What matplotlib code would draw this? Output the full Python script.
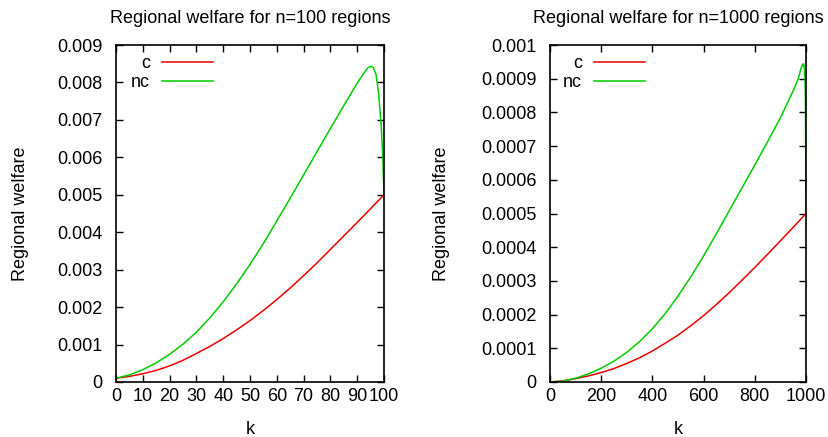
import matplotlib
matplotlib.use("Agg")
import matplotlib.pyplot as plt

plt.rcParams['font.family'] = ['Liberation Sans', 'DejaVu Sans']
plt.rcParams['font.size'] = 13

# values
k100_c = [0, 5, 10, 15, 20, 25, 30, 35, 40, 45, 50, 55, 60, 65, 70, 75, 80, 85, 90, 95, 100]
w100_c = [0.0001, 0.00015, 0.00022, 0.00031, 0.00043, 0.00058, 0.00076, 0.00095, 0.00116,
          0.00139, 0.00164, 0.00191, 0.0022, 0.00251, 0.00284, 0.00318, 0.00354, 0.0039,
          0.00426, 0.00463, 0.005]

k100_nc = [0, 5, 10, 15, 20, 25, 30, 35, 40, 45, 50, 55, 60, 65, 70, 75, 80, 85, 88, 90,
           92, 93, 94, 95, 96, 97, 98, 99, 99.5, 100]
w100_nc = [0.0001, 0.00019, 0.00033, 0.00051, 0.00074, 0.00101, 0.00133, 0.00171, 0.00214,
           0.00262, 0.00314, 0.0037, 0.0043, 0.00491, 0.00553, 0.00615, 0.00677, 0.00738,
           0.00774, 0.00798, 0.0082, 0.0083, 0.00839, 0.00843, 0.0084, 0.00822, 0.0077,
           0.0068, 0.0061, 0.005]

k1000_c = [0, 50, 100, 150, 200, 250, 300, 350, 400, 450, 500, 550, 600, 650, 700, 750,
           800, 850, 900, 950, 1000]
w1000_c = [0, 0.000003, 0.00001, 0.000018, 0.000028, 0.00004, 0.000055, 0.000072, 0.000092,
           0.000115, 0.000139, 0.000167, 0.000197, 0.00023, 0.000265, 0.000302, 0.00034,
           0.000379, 0.000419, 0.000459, 0.0005]

k1000_nc = [0, 50, 100, 150, 200, 250, 300, 350, 400, 450, 500, 550, 600, 650, 700, 750,
            800, 850, 900, 950, 970, 980, 987, 991, 994, 996, 998, 1000]
w1000_nc = [0, 0.000003, 0.000011, 0.000024, 0.000041, 0.000062, 0.000088, 0.00012, 0.000158,
            0.000203, 0.000255, 0.000312, 0.000374, 0.00044, 0.000508, 0.000576, 0.000644,
            0.000713, 0.000784, 0.000864, 0.0009, 0.00093, 0.000942, 0.000944, 0.00093,
            0.0009, 0.00082, 0.0005]

yticks_100 = [0, 0.001, 0.002, 0.003, 0.004, 0.005, 0.006, 0.007, 0.008, 0.009]
ylabels_100 = ['0', '0.001', '0.002', '0.003', '0.004', '0.005', '0.006', '0.007', '0.008', '0.009']
xticks_100 = [0, 10, 20, 30, 40, 50, 60, 70, 80, 90, 100]

yticks_1000 = [0, 0.0001, 0.0002, 0.0003, 0.0004, 0.0005, 0.0006, 0.0007, 0.0008, 0.0009, 0.001]
ylabels_1000 = ['0', '0.0001', '0.0002', '0.0003', '0.0004', '0.0005', '0.0006', '0.0007',
                '0.0008', '0.0009', '0.001']
xticks_1000 = [0, 200, 400, 600, 800, 1000]

RED = '#ee0000'
GREEN = '#00cc00'

fig = plt.figure(figsize=(8.29, 4.37), dpi=100)
ax1 = fig.add_axes([116 / 829, 55 / 437, 268 / 829, 337 / 437])
ax2 = fig.add_axes([550 / 829, 55 / 437, 256 / 829, 337 / 437])


def style(ax, title, xt, yt, ylab, xmax, ymax, ylab_x, leg_x):
    ax.set_xlim(0, xmax)
    ax.set_ylim(0, ymax)
    ax.set_xticks(xt)
    ax.set_xticklabels([str(v) for v in xt])
    ax.set_yticks(yt)
    ax.set_yticklabels(ylab)
    ax.tick_params(direction='in', length=5, width=1, top=True, right=True,
                   labelsize=13, colors='black')
    ax.tick_params(axis='y', pad=9.5)
    ax.tick_params(axis='x', pad=4.5)
    for s in ax.spines.values():
        s.set_linewidth(1.2)
    ax.set_title(title, fontsize=13, pad=16)
    ax.set_xlabel('k', fontsize=13, labelpad=11)
    ax.set_ylabel('Regional welfare', fontsize=13)
    ax.yaxis.set_label_coords(ylab_x, 0.5)
    ax.legend(loc='upper left', frameon=False, markerfirst=False, handlelength=2.85,
              fontsize=13, borderaxespad=0, borderpad=0, labelspacing=0.1,
              handletextpad=0.65, bbox_to_anchor=(leg_x, 0.97))


ax1.plot(k100_c, w100_c, color=RED, lw=1.1, label='c')
ax1.plot(k100_nc, w100_nc, color=GREEN, lw=1.1, label='nc')
style(ax1, 'Regional welfare for n=100 regions', xticks_100, yticks_100, ylabels_100,
      100, 0.009, -0.325, 0.056)

ax2.plot(k1000_c, w1000_c, color=RED, lw=1.1, label='c')
ax2.plot(k1000_nc, w1000_nc, color=GREEN, lw=1.1, label='nc')
style(ax2, 'Regional welfare for n=1000 regions', xticks_1000, yticks_1000, ylabels_1000,
      1000, 0.001, -0.39, 0.05)

fig.savefig('out.png', dpi=100)
